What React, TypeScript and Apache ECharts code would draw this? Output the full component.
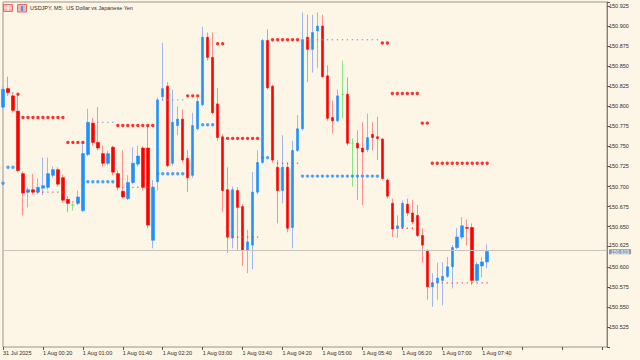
import React, { useEffect, useRef } from 'react';
import * as echarts from 'echarts';

// x-axis tick labels (every 8 bars = 40 minutes)
const TICK_LABELS = ['31 Jul 2025', '1 Aug 00:20', '1 Aug 01:00', '1 Aug 01:40', '1 Aug 02:20', '1 Aug 03:00', '1 Aug 03:40', '1 Aug 04:20', '1 Aug 05:00', '1 Aug 05:40', '1 Aug 06:20', '1 Aug 07:00', '1 Aug 07:40'];
const SLOT_COUNT = 122; // visible M5 slots including empty right margin
const START_TIME = '2025-07-31T23:40:00Z';

const OPEN = [150.799, 150.822, 150.813, 150.794, 150.716, 150.693, 150.696, 150.693, 150.698, 150.699, 150.714, 150.721, 150.711, 150.684, 150.677, 150.679, 150.670, 150.740, 150.779, 150.755, 150.741, 150.729, 150.749, 150.716, 150.694, 150.685, 150.705, 150.728, 150.748, 150.748, 150.633, 150.706, 150.812, 150.825, 150.729, 150.776, 150.784, 150.735, 150.714, 150.772, 150.802, 150.886, 150.861, 150.803, 150.762, 150.696, 150.636, 150.695, 150.675, 150.621, 150.627, 150.693, 150.730, 150.882, 150.825, 150.724, 150.695, 150.724, 150.649, 150.745, 150.772, 150.886, 150.871, 150.894, 150.900, 150.838, 150.786, 150.782, 150.815, 150.815, 150.754, 150.754, 150.748, 150.746, 150.765, 150.762, 150.759, 150.708, 150.679, 150.648, 150.649, 150.678, 150.667, 150.664, 150.639, 150.620, 150.575, 150.580, 150.583, 150.588, 150.600, 150.624, 150.637, 150.649, 150.649, 150.583, 150.601, 150.606];
const CLOSE = [150.821, 150.817, 150.795, 150.720, 150.692, 150.696, 150.693, 150.699, 150.701, 150.716, 150.721, 150.703, 150.683, 150.679, 150.677, 150.687, 150.741, 150.780, 150.755, 150.748, 150.729, 150.741, 150.718, 150.699, 150.687, 150.705, 150.729, 150.738, 150.699, 150.652, 150.699, 150.808, 150.822, 150.726, 150.780, 150.784, 150.733, 150.711, 150.776, 150.806, 150.886, 150.861, 150.792, 150.761, 150.695, 150.637, 150.696, 150.674, 150.621, 150.631, 150.693, 150.730, 150.882, 150.823, 150.733, 150.695, 150.724, 150.648, 150.745, 150.772, 150.883, 150.871, 150.892, 150.900, 150.837, 150.785, 150.782, 150.813, 150.815, 150.754, 150.754, 150.748, 150.743, 150.761, 150.761, 150.760, 150.710, 150.688, 150.647, 150.651, 150.679, 150.667, 150.656, 150.639, 150.627, 150.575, 150.580, 150.586, 150.588, 150.600, 150.624, 150.637, 150.651, 150.648, 150.583, 150.603, 150.606, 150.619];
const LOW = [150.795, 150.813, 150.792, 150.718, 150.664, 150.674, 150.690, 150.690, 150.689, 150.696, 150.711, 150.700, 150.680, 150.668, 150.670, 150.677, 150.668, 150.738, 150.751, 150.745, 150.725, 150.726, 150.714, 150.695, 150.685, 150.683, 150.703, 150.725, 150.695, 150.648, 150.623, 150.695, 150.807, 150.724, 150.726, 150.764, 150.730, 150.693, 150.711, 150.770, 150.800, 150.857, 150.790, 150.757, 150.668, 150.617, 150.623, 150.621, 150.601, 150.592, 150.597, 150.690, 150.728, 150.821, 150.730, 150.654, 150.679, 150.643, 150.623, 150.743, 150.770, 150.830, 150.842, 150.848, 150.835, 150.782, 150.766, 150.780, 150.785, 150.751, 150.700, 150.683, 150.677, 150.743, 150.745, 150.733, 150.708, 150.685, 150.637, 150.636, 150.647, 150.663, 150.653, 150.637, 150.605, 150.559, 150.550, 150.559, 150.552, 150.586, 150.573, 150.622, 150.634, 150.627, 150.577, 150.581, 150.587, 150.598];
const HIGH = [150.825, 150.837, 150.817, 150.813, 150.719, 150.699, 150.716, 150.710, 150.736, 150.736, 150.725, 150.724, 150.715, 150.688, 150.679, 150.695, 150.754, 150.797, 150.785, 150.799, 150.751, 150.745, 150.751, 150.720, 150.745, 150.714, 150.749, 150.751, 150.750, 150.776, 150.708, 150.811, 150.879, 150.830, 150.821, 150.800, 150.796, 150.745, 150.792, 150.810, 150.899, 150.892, 150.892, 150.823, 150.765, 150.724, 150.700, 150.699, 150.678, 150.646, 150.718, 150.745, 150.884, 150.896, 150.827, 150.733, 150.764, 150.730, 150.757, 150.789, 150.917, 150.914, 150.914, 150.917, 150.914, 150.851, 150.807, 150.821, 150.857, 150.836, 150.760, 150.770, 150.780, 150.791, 150.780, 150.787, 150.761, 150.710, 150.685, 150.664, 150.683, 150.685, 150.683, 150.677, 150.648, 150.622, 150.592, 150.605, 150.606, 150.612, 150.627, 150.648, 150.662, 150.659, 150.654, 150.606, 150.612, 150.628];

// indicator levels: [first bar, last bar, price]
const RED_DOT_LEVELS = [[1, 1, 150.820], [3, 3, 150.815], [4, 12, 150.786], [13, 16, 150.755], [23, 30, 150.776], [37, 39, 150.813], [43, 44, 150.878], [45, 51, 150.760], [54, 59, 150.883], [76, 77, 150.879], [78, 83, 150.816], [84, 85, 150.779], [86, 97, 150.729]];
const BLUE_DOT_LEVELS = [[0, 0, 150.704], [1, 2, 150.724], [17, 22, 150.706], [31, 36, 150.716], [40, 42, 150.777], [52, 53, 150.736], [60, 75, 150.713]];
const BLUE_DOTTED_LEVELS = [[2, 2, 150.817], [19, 22, 150.780], [32, 36, 150.808], [60, 75, 150.883]];
const RED_DOTTED_LEVELS = [[5, 12, 150.693], [14, 16, 150.681], [24, 30, 150.699], [45, 51, 150.637], [55, 59, 150.729], [79, 82, 150.648], [86, 97, 150.580]];

const CURRENT_PRICE = 150.619;
const TITLE = 'USDJPY, M5:  US Dollar vs Japanese Yen';

const FONT = 'Liberation Sans';

export default function App() {
  const ref = useRef<HTMLDivElement>(null);
  useEffect(() => {
    const el = ref.current!;
    const chart = echarts.init(el, undefined, { renderer: 'svg' });
    const t0 = new Date(START_TIME).getTime();
    const cats: string[] = [];
    for (let i = 0; i < SLOT_COUNT; i++) {
      const d = new Date(t0 + i * 300000);
      cats.push(d.toISOString().slice(0, 16));
    }
    const candles = OPEN.map((o, i) => [o, CLOSE[i], LOW[i], HIGH[i]]);
    const bodies = OPEN.map((o, i) => [o, CLOSE[i], Math.min(o, CLOSE[i]), Math.max(o, CLOSE[i])]);
    const expand = (levels: number[][]) => {
      const pts: number[][] = [];
      levels.forEach(([a, b, p]) => {
        for (let i = a; i <= b; i++) pts.push([i, p]);
      });
      return pts;
    };
    const option: any = {
      animation: false,
      backgroundColor: '#fdf5e6',
      grid: { left: 1, right: 33, top: 2, bottom: 13, show: true, borderColor: '#9c958c', borderWidth: 1 },
      xAxis: {
        type: 'category',
        data: cats,
        boundaryGap: false,
        axisLine: { show: false },
        axisTick: { show: true, inside: false, length: 3, interval: (i: number) => i % 8 === 0, lineStyle: { color: '#555' } },
        axisLabel: {
          interval: 0,
          align: 'left',
          margin: 3,
          fontSize: 5.5,
          fontFamily: FONT,
          color: '#2e2e2e',
          formatter: (_v: string, i: number) => (i % 8 === 0 && TICK_LABELS[i / 8] ? TICK_LABELS[i / 8] : ''),
        },
        splitLine: { show: false },
      },
      yAxis: {
        type: 'value',
        position: 'right',
        min: 150.5,
        max: 150.93,
        interval: 0.025,
        axisLine: { show: true, lineStyle: { color: '#857f77', width: 1 } },
        axisTick: { show: true, length: 3, lineStyle: { color: '#555' } },
        axisLabel: {
          margin: 2,
          fontSize: 5.5,
          fontFamily: FONT,
          color: '#2e2e2e',
          rich: {
            up: { fontSize: 5.5, fontFamily: FONT, color: '#2e2e2e', padding: [0, 0, 3, 0] },
          },
          formatter: (v: number) => {
            const k = Math.round(v / 0.025);
            if (Math.abs(v - k * 0.025) > 1e-6 || v < 150.51) return '';
            const s = v.toFixed(3);
            // the label just above the current-price box is nudged up slightly
            return Math.abs(v - CURRENT_PRICE) < 0.0125 ? `{up|${s}}` : s;
          },
        },
        splitLine: { show: false },
      },
      series: [
        {
          type: 'candlestick',
          data: candles,
          barWidth: 1,
          itemStyle: {
            color: '#9fb6ef', color0: '#ff8e8e', borderColor: '#9fb6ef', borderColor0: '#ff8e8e',
            borderColorDoji: '#86e886', borderWidth: 1,
          },
          silent: true,
        },
        {
          type: 'candlestick',
          data: bodies,
          barWidth: 3,
          itemStyle: {
            color: '#1e90ff', color0: '#ff0000', borderColor: '#1e90ff', borderColor0: '#ff0000',
            borderColorDoji: '#6fe06f', borderWidth: 0.6,
          },
          silent: true,
          markLine: {
            silent: true,
            symbol: 'none',
            data: [{ yAxis: CURRENT_PRICE }],
            lineStyle: { color: '#c9c3bb', width: 1, type: 'solid' },
            label: {
              show: true,
              position: 'end',
              distance: 2,
              offset: [0, 1],
              formatter: CURRENT_PRICE.toFixed(3),
              backgroundColor: '#8a99ad',
              color: '#ffffff',
              fontSize: 5,
              lineHeight: 5,
              fontFamily: FONT,
              padding: [0, 2, 0, 2],
            },
          },
        },
        {
          type: 'scatter', data: expand(RED_DOT_LEVELS), symbol: 'circle', symbolSize: 3.4,
          itemStyle: { color: '#ff0000' }, silent: true,
        },
        {
          type: 'scatter', data: expand(BLUE_DOT_LEVELS), symbol: 'circle', symbolSize: 3.4,
          itemStyle: { color: '#1e90ff' }, silent: true,
        },
        {
          type: 'scatter', data: expand(BLUE_DOTTED_LEVELS), symbol: 'rect', symbolSize: 1.3,
          itemStyle: { color: '#6f8fe8' }, silent: true,
        },
        {
          type: 'scatter', data: expand(RED_DOTTED_LEVELS), symbol: 'rect', symbolSize: 1.3,
          itemStyle: { color: '#ff3030' }, silent: true,
        },
      ],
      graphic: [
        { type: 'rect', shape: { x: 3.5, y: 4.5, width: 9, height: 7 }, style: { fill: '#f6b3b3', stroke: '#e07070', lineWidth: 1 } },
        { type: 'line', shape: { x1: 4, y1: 8, x2: 12, y2: 8 }, style: { stroke: '#ffffff', lineWidth: 0.8 } },
        { type: 'line', shape: { x1: 8, y1: 5, x2: 8, y2: 11 }, style: { stroke: '#ffffff', lineWidth: 0.8 } },
        { type: 'rect', shape: { x: 17.5, y: 4.5, width: 9, height: 7.5 }, style: { fill: '#f6b3b3', stroke: '#e07070', lineWidth: 1 } },
        { type: 'rect', shape: { x: 21, y: 6, width: 2, height: 5 }, style: { fill: '#4a90e8' } },
        {
          type: 'text', left: 30, top: 5,
          style: { text: TITLE, fontSize: 5.5, fontFamily: FONT, fill: '#2e2e2e' },
        },
      ],
    };
    chart.setOption(option);
    return () => chart.dispose();
  }, []);
  return <div ref={ref} style={{ position: 'fixed', left: 0, top: 0, width: 640, height: 360 }} />;
}
